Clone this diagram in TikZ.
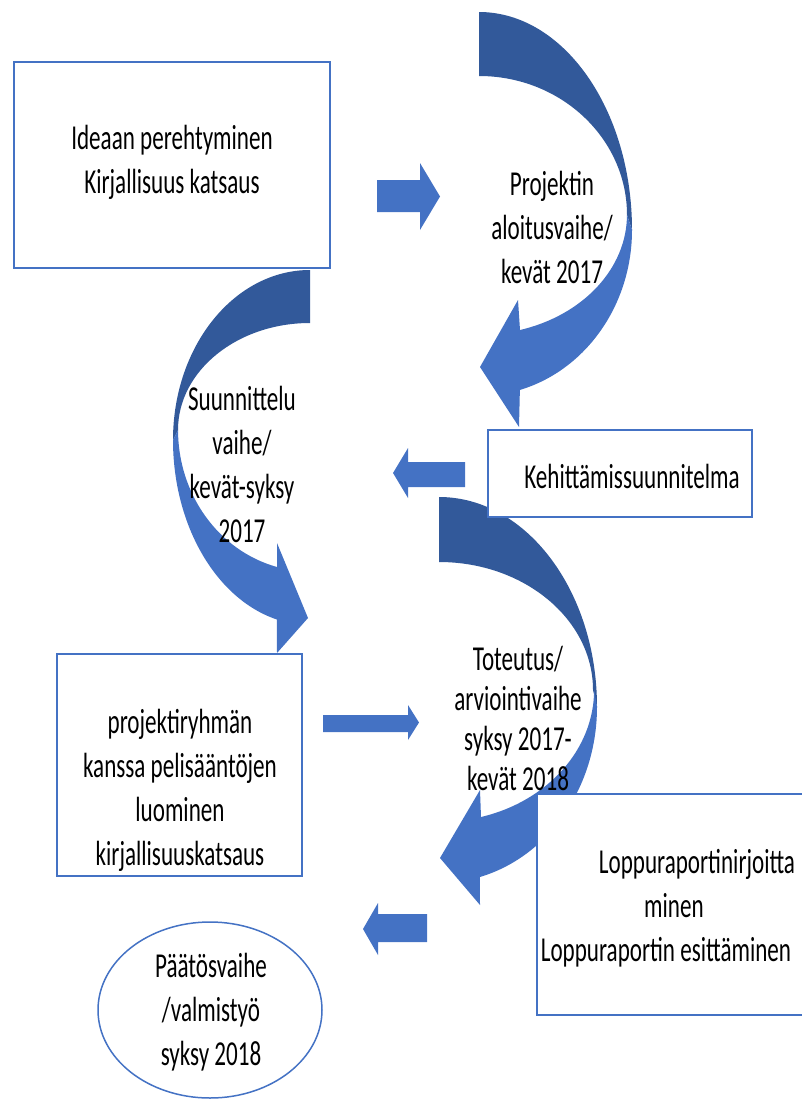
\documentclass[tikz,border=0pt]{standalone}
\usepackage{fontspec}
\setmainfont{Carlito}[FakeStretch=0.66]
\usepackage{tikz}
\usetikzlibrary{shapes.geometric}
\definecolor{kehys}{RGB}{68,114,196}
\definecolor{vaalea}{RGB}{68,114,196}
\definecolor{tumma}{RGB}{50,89,154}

\begin{document}
\begin{tikzpicture}[x=1pt,y=-1pt,
    laatikko/.style={draw=kehys,line width=1.5pt,fill=white,inner sep=0pt},
    teksti/.style={align=center,inner sep=0pt,font=\fontsize{35}{44}\selectfont}]
  \useasboundingbox (0,0) rectangle (802,1100);
  \clip (0,0) rectangle (802,1100);
  % suorat nuolet: hanta, kannan x, karki, varsi ylä/ala, kärki ylä/ala
  \foreach \xa/\xb/\xc/\ya/\yb/\yc/\yd in {
    377/420/440/180/212/163/230, 465/408/393/462/487/448/498,
    323/408/419/715/732/705/740, 427/378/363/914/942/903/955}{
    \fill[vaalea] (\xa,\ya) -- (\xb,\ya) -- (\xb,\yc) -- (\xc,{(\yc+\yd)/2})
      -- (\xb,\yd) -- (\xb,\yb) -- (\xa,\yb) -- cycle;
  }
  % kaarinuoli 1
  \fill[tumma] (479,12) arc[start angle=-90,end angle=0,x radius=153,y radius=218]
    -- (627,215) arc[start angle=0,end angle=-90,x radius=148,y radius=139] -- cycle;
  \fill[vaalea] (632,230) arc[start angle=0,end angle=74.5,x radius=153,y radius=166]
    -- (519,427) -- (480,367) -- (518,300)
    -- (520,330) arc[start angle=73.9,end angle=0,x radius=148,y radius=120] -- cycle;
  % kaarinuoli 2
  \fill[tumma] (310,270) arc[start angle=-90,end angle=-180,x radius=137,y radius=170]
    -- (178,430) arc[start angle=180,end angle=270,x radius=132,y radius=107] -- cycle;
  \fill[vaalea] (173,440) arc[start angle=180,end angle=104,x radius=137,y radius=185]
    -- (277,653) -- (308,618) -- (277,543)
    -- (277,567) arc[start angle=104.5,end angle=180,x radius=132,y radius=141.5] -- cycle;
  % kaarinuoli 3
  \fill[tumma] (439,497) arc[start angle=-90,end angle=0,x radius=158,y radius=210]
    -- (593,690) arc[start angle=0,end angle=-90,x radius=154,y radius=128] -- cycle;
  \fill[vaalea] (597,707) arc[start angle=0,end angle=75,x radius=158,y radius=176]
    -- (480,905) -- (440,858) -- (480,790)
    -- (481,817) arc[start angle=74.6,end angle=0,x radius=154,y radius=132] -- cycle;
  % laatikot
  \node[laatikko,minimum width=316,minimum height=206] (idea) at (172,165) {};
  \node[laatikko,minimum width=264,minimum height=87] (kehitys) at (620,473.5) {};
  \node[laatikko,minimum width=245,minimum height=222] (ryhma) at (179.5,765) {};
  \node[laatikko,minimum width=293,minimum height=221] (loppu) at (683.5,904.5) {};
  \node[laatikko,ellipse,minimum width=224,minimum height=176] (paatos) at (210,1010) {};
  % tekstit
  \node[teksti] (ideateksti) at ([yshift=3]idea.center) {Ideaan perehtyminen\\Kirjallisuus katsaus};
  \node[teksti] (aloitus) at (552,227) {Projektin\\aloitusvaihe/\\kevät 2017};
  \node[teksti] (suunnittelu) at (242,464) {Suunnittelu\\vaihe/\\kevät-syksy\\2017};
  \node[teksti] (kehitysteksti) at ([shift={(12,3)}]kehitys.center) {Kehittämissuunnitelma};
  \node[teksti,font=\fontsize{35}{40}\selectfont] (toteutus) at (518,718)
    {Toteutus/\\arviointivaihe\\syksy 2017-\\kevät 2018};
  \node[teksti] (ryhmateksti) at ([shift={(0.5,25.5)}]ryhma.center)
    {projektiryhmän\\kanssa pelisääntöjen\\luominen\\kirjallisuuskatsaus};
  \node[teksti] (lopputeksti) at ([shift={(-17.5,3.5)}]loppu.center)
    {\hspace*{62pt}Loppuraportinirjoitta\\\hspace*{16pt}minen\\Loppuraportin esittäminen};
  \node[teksti] (paatosteksti) at ([shift={(1,2)}]paatos.center) {Päätösvaihe\\/valmistyö\\syksy 2018};
\end{tikzpicture}
\end{document}
